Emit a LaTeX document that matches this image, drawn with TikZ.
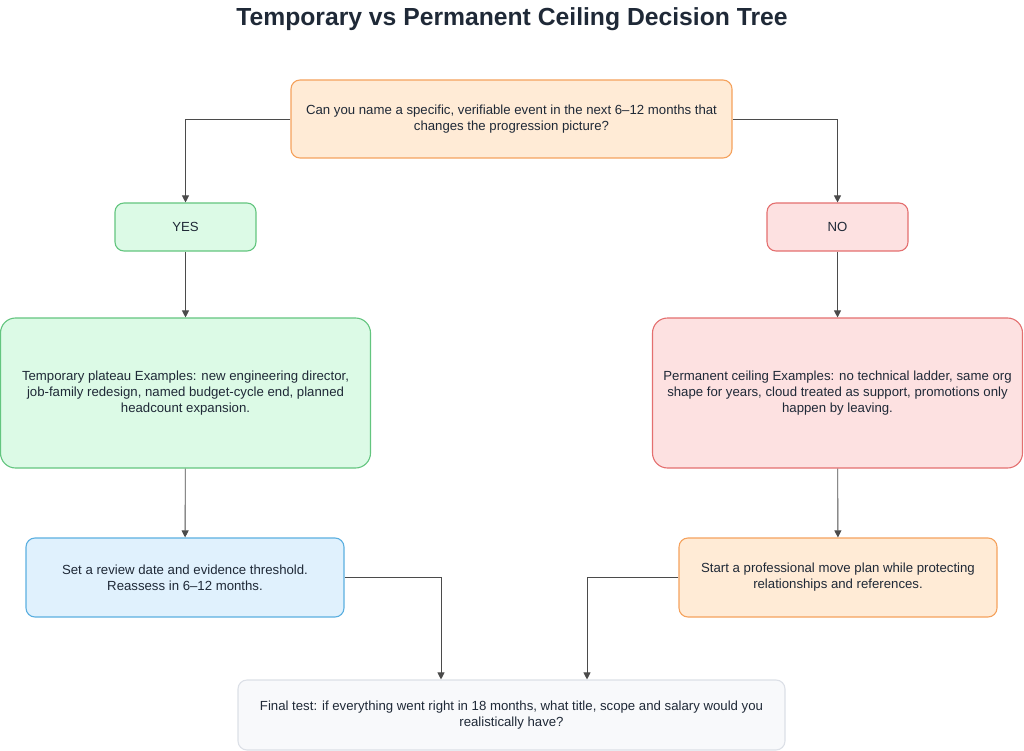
\documentclass[tikz,border=0pt]{standalone}
\usepackage{fontspec}
\setmainfont{Liberation Sans}
\usetikzlibrary{arrows.meta,positioning}

\definecolor{inkc}{HTML}{1F2937}
\definecolor{linec}{HTML}{4B4B4B}
\definecolor{orfill}{HTML}{FFEBD6}
\definecolor{ordraw}{HTML}{F5A25D}
\definecolor{grfill}{HTML}{DCFAE6}
\definecolor{grdraw}{HTML}{63C57F}
\definecolor{rdfill}{HTML}{FDE1E1}
\definecolor{rddraw}{HTML}{E46F6F}
\definecolor{blfill}{HTML}{E0F1FD}
\definecolor{bldraw}{HTML}{5BAFE0}
\definecolor{gyfill}{HTML}{F8F9FB}
\definecolor{gydraw}{HTML}{DCE0E7}

\begin{document}
\begin{tikzpicture}[
  x=1pt, y=-1pt,
  box/.style={draw, line width=1.1pt, rounded corners=9pt, align=center,
    inner sep=0pt, text=inkc, font=\fontsize{13.2}{16}\selectfont},
  ask/.style={box, fill=orfill, draw=ordraw},
  yesbox/.style={box, fill=grfill, draw=grdraw},
  nobox/.style={box, fill=rdfill, draw=rddraw},
  waitbox/.style={box, fill=blfill, draw=bldraw},
  finalbox/.style={box, fill=gyfill, draw=gydraw},
  arr/.style={-{Triangle[length=7pt, width=7pt]}, draw=linec, line width=0.9pt}
]
\useasboundingbox (0,0) rectangle (1024,751);

\node[text=inkc, font=\fontsize{24.7}{28}\selectfont\bfseries] (title) at (512,19)
  {Temporary vs Permanent Ceiling Decision Tree};

\node[ask, minimum width=441pt, minimum height=78pt] (question) at (511.5,119)
  {Can you name a specific, verifiable event in the next 6--12 months that\\changes the progression picture?};

\node[yesbox, minimum width=141pt, minimum height=48pt] (yes) at (185.5,227) {YES};
\node[nobox, minimum width=141pt, minimum height=48pt] (no) at (837.5,227) {NO};

\node[yesbox, rounded corners=15pt, minimum width=370pt, minimum height=150pt] (temp) at (185.5,393)
  {Temporary plateau Examples: new engineering director,\\job-family redesign, named budget-cycle end, planned\\headcount expansion.};
\node[nobox, rounded corners=15pt, minimum width=370pt, minimum height=150pt] (perm) at (837.5,393)
  {Permanent ceiling Examples: no technical ladder, same org\\shape for years, cloud treated as support, promotions only\\happen by leaving.};

\node[waitbox, minimum width=318pt, minimum height=79pt] (review) at (185,577.5)
  {Set a review date and evidence threshold.\\Reassess in 6--12 months.};
\node[ask, minimum width=318pt, minimum height=79pt] (move) at (838,577.5)
  {Start a professional move plan while protecting\\relationships and references.};

\node[finalbox, minimum width=547pt, minimum height=70pt] (final) at (511.5,715)
  {Final test: if everything went right in 18 months, what title, scope and salary would you\\realistically have?};

\draw[arr] (question.west) -| (yes.north);
\draw[arr] (question.east) -| (no.north);
\draw[arr] (yes) -- (temp);
\draw[arr] (no) -- (perm);
\draw[arr] (temp) -- (review);
\draw[arr] (perm) -- (move);
\draw[arr] (review.east) -| (final.north -| 441,0);
\draw[arr] (move.west) -| (final.north -| 587,0);
\end{tikzpicture}
\end{document}
